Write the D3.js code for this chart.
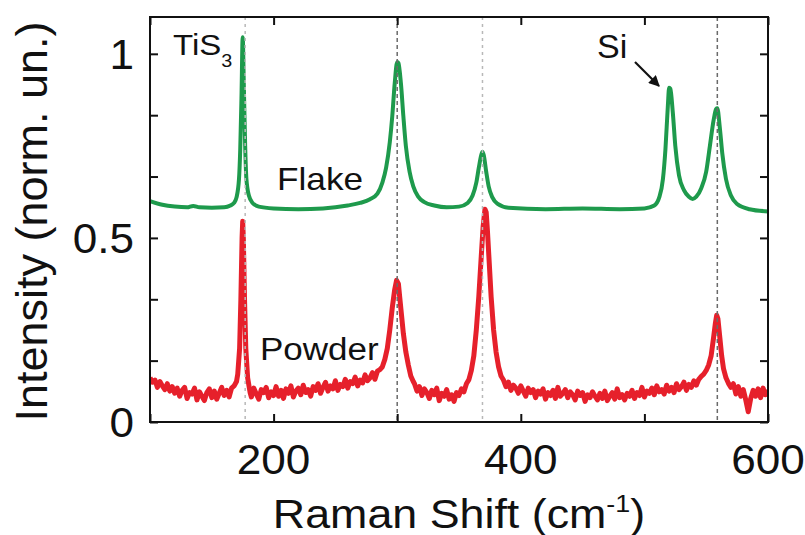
<!DOCTYPE html>
<html>
<head>
<meta charset="utf-8">
<script src="https://cdn.jsdelivr.net/npm/d3@7"></script>
<style>
  html, body { margin: 0; padding: 0; background: #fff; }
  svg { display: block; }
  text { font-family: "Liberation Sans", Arial, sans-serif; fill: #111; }
</style>
</head>
<body>
<svg id="chart" width="805" height="535"></svg>
<script>
// ---------- DATA ----------
const flakeX = [100,110,120,130,135,140,150,160,165,168,170,172,173,174,175,176,177,178,180,183,188,200,220,240,260,270,278,284,288,291,294,296,298,300,301,303,305,307,310,313,317,322,330,340,350,357,361,364,366,368,369,370,372,374,377,381,390,420,450,480,500,508,512,515,517,519,520,521,523,525,528,532,536,539,542,546,550,553,556,558,559,561,563,566,570,575,585,600];
const flakeY = [0.600,0.590,0.585,0.583,0.587,0.583,0.582,0.583,0.588,0.595,0.610,0.660,0.740,0.880,1.045,0.900,0.750,0.660,0.615,0.595,0.585,0.580,0.578,0.580,0.588,0.595,0.605,0.620,0.650,0.690,0.760,0.830,0.920,0.978,0.975,0.920,0.830,0.750,0.680,0.640,0.612,0.597,0.588,0.583,0.585,0.595,0.615,0.650,0.690,0.725,0.734,0.725,0.680,0.640,0.610,0.593,0.582,0.578,0.580,0.578,0.580,0.588,0.610,0.660,0.740,0.860,0.908,0.905,0.840,0.750,0.670,0.630,0.612,0.606,0.612,0.635,0.680,0.750,0.820,0.850,0.852,0.800,0.730,0.660,0.615,0.592,0.578,0.572];

const powderX = [
  100,102,104,106,108,110,112,114,116,118,120,122,124,126,128,130,132,134,136,138,140,142,144,146,148,150,152,154,156,158,160,162,164,166,168,
  170,171,172.5,173.5,174.5,175,175.5,176.5,177.5,179,181,
  182,184,186,188,190,192,194,196,198,200,202,204,206,208,210,212,214,216,218,220,222,224,226,228,230,232,234,236,238,240,242,244,246,248,250,252,254,256,258,260,262,264,266,268,270,272,274,276,278,280,282,284,286,
  288,290,292,294,296,298,299.5,301,302,303.5,305,307,309,311,313,
  314,316,318,320,322,324,326,328,330,332,334,336,338,340,342,344,346,348,350,352,354,356,
  358,360,362,364,366,368,369.5,371,372,373,374.5,376,378,380,382,384,
  386,388,390,392,394,396,398,400,402,404,406,408,410,412,414,416,418,420,422,424,426,428,430,432,434,436,438,440,442,444,446,448,450,452,454,456,458,460,462,464,466,468,470,472,474,476,478,480,482,484,486,488,490,492,494,496,498,500,502,504,506,508,510,512,514,516,518,520,522,524,526,528,530,532,534,536,538,540,542,544,546,
  548,550,552,554,556,557.5,558.5,559.5,561,562.5,564,566,568,
  570,572,574,576,578,580,582,584,586,588,590,592,594,596,598,600];
const powderY = [
  0.120,0.108,0.114,0.094,0.110,0.098,0.088,0.104,0.084,0.096,0.078,0.092,0.070,0.086,0.094,0.064,0.080,0.076,0.092,0.060,0.082,0.070,0.058,0.080,0.090,0.066,0.084,0.062,0.078,0.094,0.072,0.086,0.068,0.092,0.098,
  0.110,0.130,0.200,0.330,0.500,0.545,0.500,0.330,0.200,0.120,0.080,
  0.068,0.092,0.076,0.062,0.088,0.080,0.094,0.066,0.082,0.072,0.096,0.070,0.086,0.064,0.090,0.078,0.098,0.068,0.084,0.092,0.074,0.100,0.080,0.088,0.070,0.096,0.086,0.104,0.078,0.094,0.108,0.084,0.098,0.090,0.112,0.086,0.102,0.096,0.116,0.092,0.110,0.104,0.122,0.098,0.114,0.106,0.128,0.112,0.120,0.134,0.116,0.138,0.142,
  0.150,0.170,0.200,0.250,0.310,0.360,0.385,0.375,0.340,0.290,0.240,0.190,0.155,0.125,0.110,
  0.104,0.084,0.096,0.072,0.090,0.080,0.064,0.086,0.074,0.092,0.058,0.078,0.070,0.088,0.062,0.074,0.056,0.080,0.072,0.090,0.082,0.104,
  0.115,0.140,0.180,0.250,0.340,0.450,0.530,0.578,0.570,0.520,0.430,0.340,0.250,0.190,0.150,0.125,
  0.114,0.096,0.108,0.086,0.100,0.092,0.078,0.098,0.084,0.070,0.092,0.080,0.088,0.066,0.084,0.076,0.090,0.062,0.080,0.072,0.086,0.064,0.094,0.070,0.078,0.088,0.066,0.082,0.074,0.060,0.084,0.072,0.080,0.056,0.074,0.066,0.082,0.070,0.060,0.078,0.064,0.084,0.058,0.070,0.080,0.062,0.090,0.066,0.074,0.060,0.078,0.070,0.086,0.064,0.080,0.072,0.094,0.068,0.084,0.078,0.092,0.074,0.098,0.082,0.088,0.076,0.100,0.084,0.094,0.080,0.104,0.088,0.096,0.108,0.086,0.102,0.094,0.112,0.100,0.116,0.124,
  0.130,0.140,0.155,0.180,0.230,0.270,0.290,0.280,0.230,0.180,0.145,0.120,0.105,
  0.094,0.104,0.076,0.096,0.070,0.088,0.060,0.028,0.064,0.086,0.070,0.090,0.066,0.092,0.074,0.086];

const refLinesStrong = [300, 559];
const refLinesLight = [177, 369];

const xTicks = [100, 200, 300, 400, 500, 600];
const xTickLabels = [200, 400, 600];
const yTicks = [0, 0.1667, 0.3333, 0.5, 0.6667, 0.8333, 1];
const yTickLabels = [0, 0.5, 1];

// ---------- LAYOUT ----------
const svg = d3.select("#chart");
const L = 150, R = 768, T = 17, B = 422;
const x = d3.scaleLinear().domain([100, 600]).range([L, R]);
const y = d3.scaleLinear().domain([0, 1.1]).range([B, T]);

const green = "#1e9a4c", red = "#e6202b";

const lineF = d3.line().x((d, i) => x(flakeX[i])).y(d => y(d)).curve(d3.curveMonotoneX);
const lineP = d3.line().x((d, i) => x(powderX[i])).y(d => y(d));

svg.append("clipPath").attr("id", "clip")
  .append("rect").attr("x", L).attr("y", T).attr("width", R - L).attr("height", B - T);

const g = svg.append("g").attr("clip-path", "url(#clip)");
g.append("path").datum(powderY).attr("d", lineP)
  .attr("fill", "none").attr("stroke", red).attr("stroke-width", 5).attr("stroke-linejoin", "round");
g.append("path").datum(flakeY).attr("d", lineF)
  .attr("fill", "none").attr("stroke", green).attr("stroke-width", 4).attr("stroke-linejoin", "round");

g.selectAll(".refL").data(refLinesLight).enter().append("line")
  .attr("x1", d => x(d)).attr("x2", d => x(d)).attr("y1", T).attr("y2", B)
  .attr("stroke", "#b8b8b8").attr("stroke-width", 1.5).attr("stroke-dasharray", "3,4");
g.selectAll(".refS").data(refLinesStrong).enter().append("line")
  .attr("x1", d => x(d)).attr("x2", d => x(d)).attr("y1", T).attr("y2", B)
  .attr("stroke", "#6a6a6a").attr("stroke-width", 1.5).attr("stroke-dasharray", "4,3");

svg.append("rect").attr("x", L).attr("y", T).attr("width", R - L).attr("height", B - T)
  .attr("fill", "none").attr("stroke", "#111").attr("stroke-width", 2);

const tl = 8;
const styleAxis = a => { a.select(".domain").remove(); a.selectAll("line").attr("stroke", "#111").attr("stroke-width", 2); };
svg.append("g").attr("transform", `translate(0,${B})`)
  .call(d3.axisBottom(x).tickValues(xTicks).tickSize(-tl).tickFormat("")).call(styleAxis);
svg.append("g").attr("transform", `translate(0,${T})`)
  .call(d3.axisTop(x).tickValues(xTicks).tickSize(-tl).tickFormat("")).call(styleAxis);
svg.append("g").attr("transform", `translate(${L},0)`)
  .call(d3.axisLeft(y).tickValues(yTicks).tickSize(-tl).tickFormat("")).call(styleAxis);
svg.append("g").attr("transform", `translate(${R},0)`)
  .call(d3.axisRight(y).tickValues(yTicks).tickSize(-tl).tickFormat("")).call(styleAxis);

svg.selectAll(".xl").data(xTickLabels).enter().append("text")
  .attr("transform", d => `translate(${x(d)},474) scale(1.05,1)`)
  .attr("text-anchor", "middle").attr("font-size", 42).text(d => d);
svg.selectAll(".yl").data(yTickLabels).enter().append("text")
  .attr("transform", d => `translate(134,${y(d) + 15}) scale(1.05,1)`)
  .attr("text-anchor", "end").attr("font-size", 42).text(d => d);

const xt = svg.append("text").attr("transform", `translate(${(L + R) / 2},528) scale(1.12,1)`)
  .attr("text-anchor", "middle").attr("font-size", 40);
xt.append("tspan").text("Raman Shift (cm");
xt.append("tspan").attr("font-size", 24).attr("dy", -16).text("-1");
xt.append("tspan").attr("dy", 16).text(")");

svg.append("text").attr("transform", `translate(47,${(T + B) / 2 + 2}) rotate(-90)`)
  .attr("text-anchor", "middle").attr("font-size", 45).text("Intensity (norm. un.)");

const tis = svg.append("text").attr("transform", "translate(173,55) scale(1.1,1)").attr("font-size", 30);
tis.append("tspan").text("TiS");
tis.append("tspan").attr("font-size", 18).attr("dy", 12).text("3");

svg.append("text").attr("transform", "translate(277,190) scale(1.1,1)").attr("font-size", 32).text("Flake");
svg.append("text").attr("transform", "translate(260,360) scale(1.13,1)").attr("font-size", 31).text("Powder");
svg.append("text").attr("transform", "translate(597,58)").attr("font-size", 34).text("Si");

svg.append("defs").append("marker").attr("id", "arr")
  .attr("viewBox", "0 0 10 10").attr("refX", 9).attr("refY", 5)
  .attr("markerWidth", 5).attr("markerHeight", 5).attr("orient", "auto")
  .append("path").attr("d", "M0,0 L10,5 L0,10 Z").attr("fill", "#111");
svg.append("line").attr("x1", 635).attr("y1", 62).attr("x2", 659).attr("y2", 86)
  .attr("stroke", "#111").attr("stroke-width", 2.2).attr("marker-end", "url(#arr)");
</script>
</body>
</html>
